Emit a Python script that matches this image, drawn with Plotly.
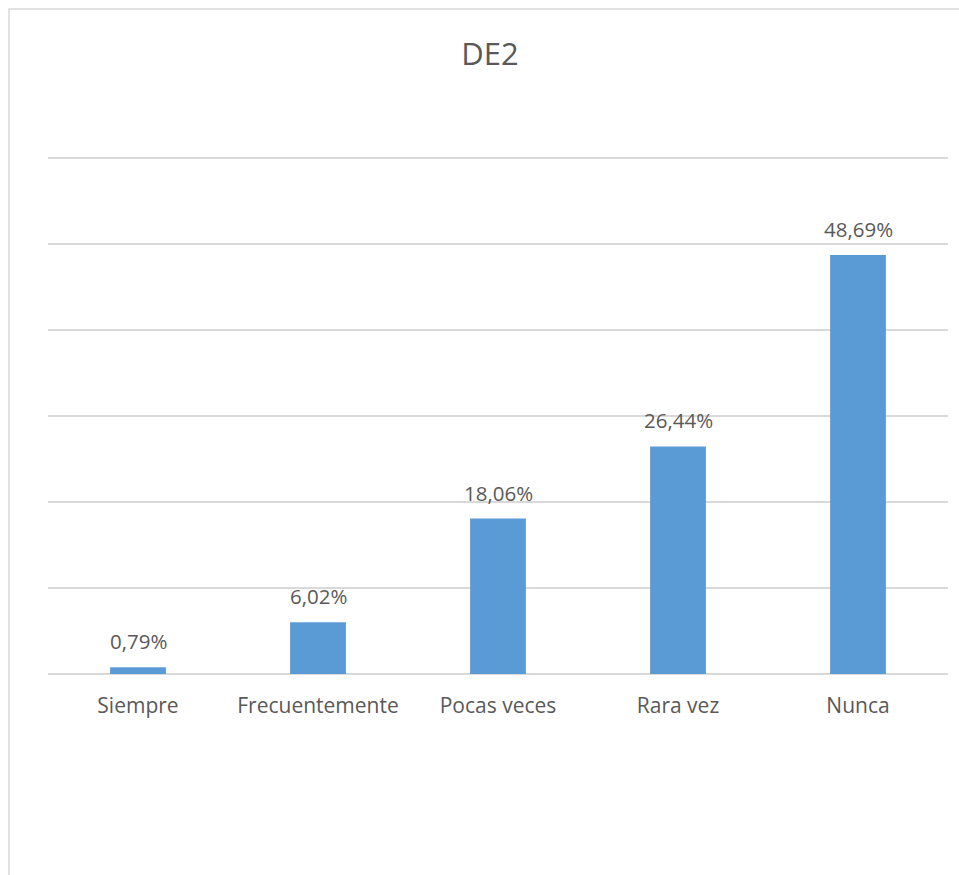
import plotly.graph_objects as go

categories = ["Siempre", "Frecuentemente", "Pocas veces", "Rara vez", "Nunca"]
values = [0.79, 6.02, 18.06, 26.44, 48.69]
labels = ["0,79%", "6,02%", "18,06%", "26,44%", "48,69%"]
title_text = "DE2"

FONT = "Open Sans"
TXT = "#595959"
GRID = "#d9d9d9"

fig = go.Figure()
fig.add_trace(go.Bar(
    x=categories, y=values,
    marker=dict(color="#5b9bd5", line=dict(width=0)),
    width=0.31,
    hoverinfo="skip",
))

for c, v, t in zip(categories, values, labels):
    fig.add_annotation(x=c, y=v, text=t, showarrow=False, xanchor="center",
                       yanchor="bottom", yshift=10,
                       font=dict(family=FONT, size=20.5, color=TXT))

fig.add_shape(type="rect", xref="paper", yref="paper",
              x0=-0.0433, x1=1.3, y0=-0.6, y1=1.284,
              line=dict(color=GRID, width=1.5), fillcolor="rgba(0,0,0,0)", layer="below")

fig.update_layout(
    width=959, height=875,
    margin=dict(l=48, r=11, t=156, b=201),
    paper_bgcolor="white", plot_bgcolor="white",
    showlegend=False,
    title=dict(text=title_text, x=490/959, xanchor="center", xref="container",
               y=1 - 54/875, yanchor="middle", yref="container",
               font=dict(family=FONT, size=31, color=TXT)),
    xaxis=dict(showgrid=False, zeroline=False, showline=False, ticks="",
               tickfont=dict(family=FONT, size=21, color=TXT),
               ticklabelstandoff=17),
    yaxis=dict(range=[0, 60.2], tickvals=[0, 10, 20, 30, 40, 50, 60],
               showgrid=True, gridcolor=GRID, gridwidth=1.5,
               zeroline=True, zerolinecolor=GRID, zerolinewidth=1.5,
               showticklabels=False, ticks="", showline=False),
)

fig.write_html("out.html", config={"displayModeBar": False},
               post_script="document.body.style.margin='0';document.body.style.overflow='hidden';")
